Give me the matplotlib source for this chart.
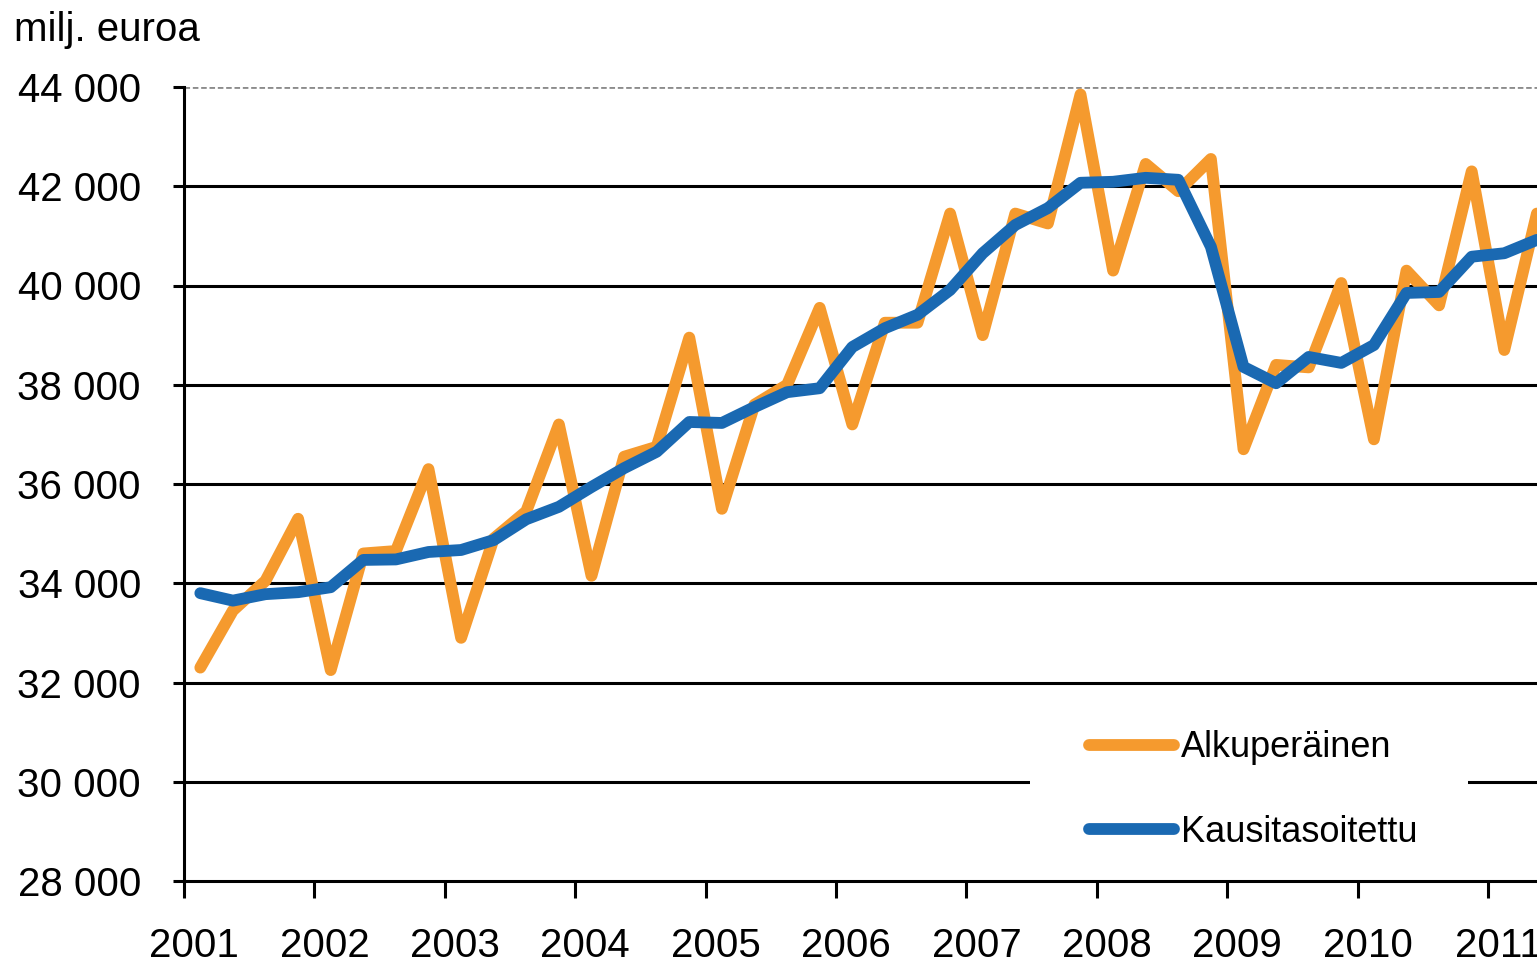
import matplotlib
matplotlib.use("Agg")
import matplotlib.pyplot as plt
from matplotlib.patches import Rectangle
import numpy as np

plt.rcParams['font.family'] = ['Liberation Sans', 'DejaVu Sans']

# quarterly values, 2001Q1 .. 2011Q2 (milj. euroa)
years = list(range(2001, 2012))
alkuperainen = [
    32300, 33450, 34050, 35300,
    32250, 34600, 34650, 36300,
    32900, 34900, 35450, 37200,
    34150, 36550, 36750, 38950,
    35500, 37600, 38000, 39550,
    37200, 39250, 39250, 41450,
    39000, 41450, 41250, 43850,
    40300, 42450, 41900, 42550,
    36700, 38400, 38350, 40050,
    36900, 40300, 39600, 42300,
    38700, 41450,
]
kausitasoitettu = [
    33800, 33650, 33780, 33820,
    33920, 34470, 34480, 34630,
    34670, 34870, 35290, 35540,
    35940, 36320, 36650, 37250,
    37230, 37550, 37850, 37930,
    38760, 39140, 39410, 39910,
    40650, 41220, 41560, 42070,
    42090, 42170, 42130, 40780,
    38360, 38030, 38560, 38440,
    38800, 39850, 39870, 40580,
    40650, 40920,
]
labels = ['Alkuperäinen', 'Kausitasoitettu']
colors = ['#F59A2E', '#1A69B2']

x = 2001 + 0.125 + 0.25 * np.arange(len(alkuperainen))

fig = plt.figure(figsize=(15.37, 9.69), dpi=100)
ax = fig.add_axes([184 / 1537, 88 / 969, 1353 / 1537, 794 / 969])

for vals, c, lab, z in [(alkuperainen, colors[0], labels[0], 3),
                        (kausitasoitettu, colors[1], labels[1], 4)]:
    ax.plot(x, vals, color=c, lw=8.5, label=lab, zorder=z,
            solid_joinstyle='round', solid_capstyle='round')

ax.set_xlim(2001, 2001 + 1353 / 130.4)
ax.set_ylim(28000, 44000)

yt = np.arange(28000, 44001, 2000)
ax.set_yticks(yt)
ax.set_yticklabels([f"{v:,}".replace(",", " ") for v in yt], fontsize=29)
for v in yt[1:-1]:
    ax.axhline(v, color='black', lw=2.2, zorder=1)
ax.axhline(44000, color='#8c8c8c', lw=2, ls=(0, (2, 1)), zorder=1)

# tick marks at the years, labels sitting a little to the right of them
ax.set_xticks(years)
ax.set_xticklabels([])
ax.set_xticks([y + 10 / 130.4 for y in years], minor=True)
ax.set_xticklabels([str(y) for y in years], minor=True, fontsize=29)

ax.tick_params(axis='y', direction='out', length=8, width=2.2, pad=23)
ax.tick_params(axis='x', which='major', direction='out', length=12, width=2.2)
ax.tick_params(axis='x', which='minor', length=0, pad=33)

for s in ['top', 'right']:
    ax.spines[s].set_visible(False)
ax.spines['left'].set_linewidth(2.2)
ax.spines['bottom'].set_linewidth(2.2)

# white panel behind the legend (hides part of the 30 000 line)
ax.add_patch(Rectangle((0.6253, 0.03), 0.3237, 0.20, transform=ax.transAxes,
                       facecolor='white', edgecolor='none', zorder=2))
ax.legend(loc='upper left', bbox_to_anchor=(0.669, 0.19), frameon=False,
          fontsize=26, handlelength=2.35, handletextpad=0.18,
          labelspacing=1.38, borderpad=0, borderaxespad=0)

fig.text(14 / 1537, 1 - 30 / 969, 'milj. euroa', fontsize=29, va='center', ha='left')

fig.savefig('out.png', dpi=100)
